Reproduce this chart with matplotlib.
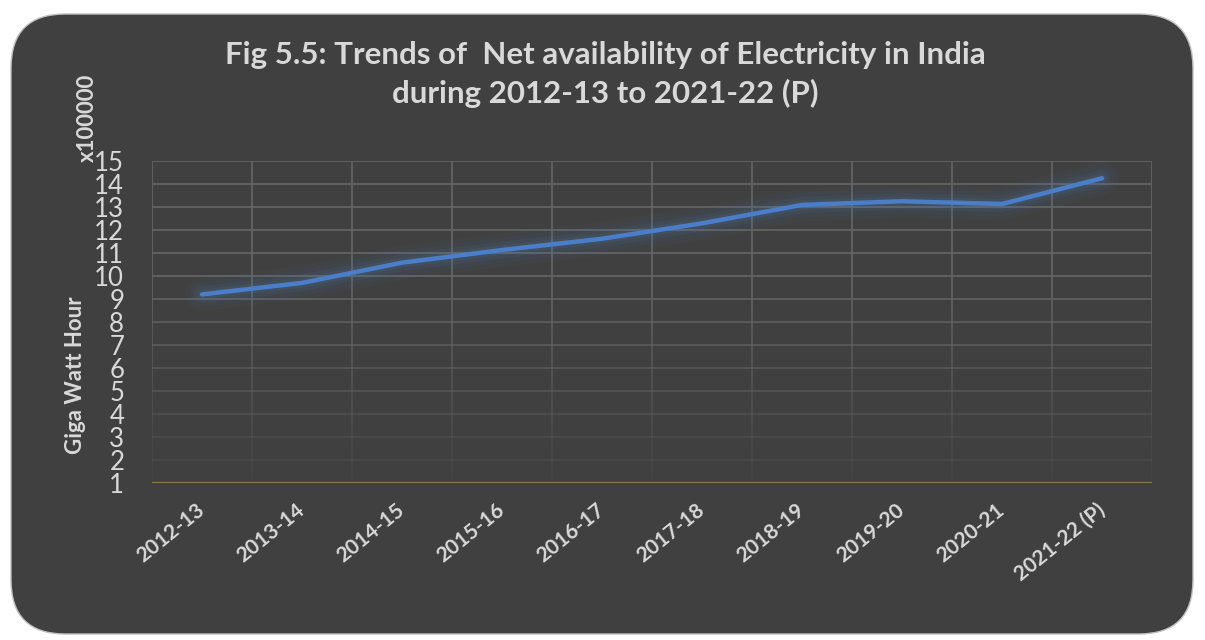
import matplotlib
matplotlib.use("Agg")
import matplotlib.pyplot as plt
import numpy as np
from matplotlib.patches import FancyBboxPatch
from matplotlib.collections import LineCollection
from matplotlib.transforms import ScaledTranslation

years = ["2012-13", "2013-14", "2014-15", "2015-16", "2016-17", "2017-18",
         "2018-19", "2019-20", "2020-21", "2021-22 (P)"]
availability = [9.20, 9.70, 10.58, 11.13, 11.62, 12.29, 13.09, 13.25, 13.13, 14.25]  # x100000 GWh
yticks = list(range(1, 16))

W, H = 1205, 640
fig = plt.figure(figsize=(W / 100, H / 100), dpi=100)
fig.patch.set_facecolor("white")

bg = "#404040"
box = FancyBboxPatch((11 / W, 6 / H), (1193 - 11) / W, (626 - 6) / H,
                     boxstyle="round,pad=0,rounding_size=0.045",
                     transform=fig.transFigure, facecolor=bg,
                     edgecolor="#bfbfbf", linewidth=1.0, mutation_aspect=W / H,
                     zorder=-10)
fig.patches.append(box)

ax = fig.add_axes([152 / W, 1 - 483 / H, 1000 / W, 322 / H])
ax.set_zorder(5)
ax.set_facecolor("none")
for s in ax.spines.values():
    s.set_visible(False)

n = len(years)
x = np.arange(n)
ax.set_xlim(-0.5, n - 0.5)
ax.set_ylim(1, 15)

grid_col = (0.40, 0.40, 0.40)
# horizontal gridlines fading toward bottom
for v in yticks[1:]:
    a = min(1.0, 0.12 + 0.88 * (v - 1) / 9)
    ax.axhline(v, color=grid_col, lw=1.2, alpha=a, zorder=1)
# vertical gridlines with gradient
ys = np.linspace(1, 15, 60)
for xv in np.arange(-0.5, n, 1.0):
    segs = [[(xv, ys[i]), (xv, ys[i + 1])] for i in range(len(ys) - 1)]
    alphas = [min(1.0, 0.08 + 0.92 * (ys[i] - 1) / 9) for i in range(len(ys) - 1)]
    cols = [(*grid_col, a) for a in alphas]
    ax.add_collection(LineCollection(segs, colors=cols, linewidths=1.2, zorder=1))

# baseline
ax.axhline(1, color="#8a7d4c", lw=1.6, zorder=2)

# glow
for lw, a in [(24, 0.04), (18, 0.06), (12, 0.08), (7, 0.12)]:
    ax.plot(x, availability, color="#4f81bd", lw=lw, alpha=a, solid_capstyle="round", zorder=3)
ax.plot(x, availability, color="#4a7ec8", lw=3.2, solid_capstyle="round", zorder=4)

txt = "#d9d9d9"
ax.set_yticks(yticks)
ax.set_yticklabels([str(v) for v in yticks], fontsize=18.5, color=txt, family="Lato")
ax.tick_params(axis="y", length=0, pad=20)
ax.set_xticks(x)
ax.set_xticklabels(years, rotation=39, ha="right", rotation_mode="anchor",
                   fontsize=15, fontweight="bold", color=txt, family="Lato")
ax.tick_params(axis="x", length=0, pad=12)
off = ScaledTranslation(-6 / 100, 0, fig.dpi_scale_trans)
for lab in ax.get_xticklabels():
    lab.set_transform(lab.get_transform() + off)

fig.text(76 / W, 1 - 375 / H, "Giga Watt Hour", rotation=90, ha="center", va="center",
         fontsize=16, fontweight="bold", color=txt, family="Lato")
fig.text(87 / W, 1 - 118 / H, "x100000", rotation=90, ha="center", va="center",
         fontsize=16, fontweight="bold", color=txt, family="Lato")

fig.text(605 / W, 1 - 55 / H, "Fig 5.5: Trends of  Net availability of Electricity in India",
         ha="center", va="center", fontsize=22.5, fontweight="bold", color=txt, family="Lato")
fig.text(605 / W, 1 - 93 / H, "during 2012-13 to 2021-22 (P)",
         ha="center", va="center", fontsize=22.5, fontweight="bold", color=txt, family="Lato")

fig.savefig("out.png", dpi=100, facecolor="white")
